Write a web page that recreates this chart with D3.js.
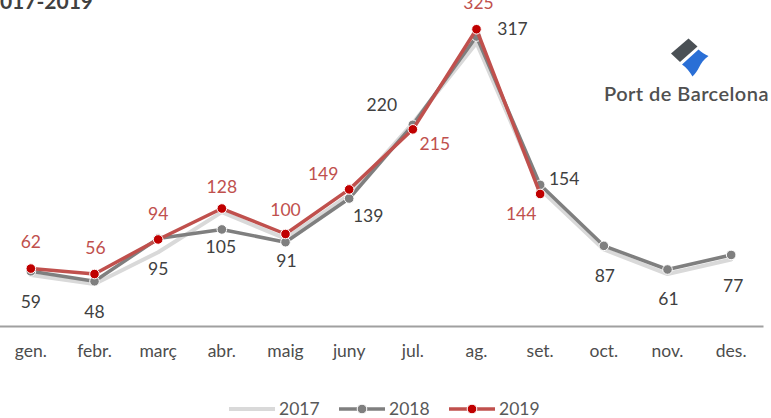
<!DOCTYPE html>
<html>
<head>
<meta charset="utf-8">
<script src="https://cdn.jsdelivr.net/npm/d3@7/dist/d3.min.js"></script>
<style>
  html, body { margin: 0; padding: 0; background: #fff; }
  svg { display: block; font-family: Lato, "Open Sans", sans-serif; }
</style>
</head>
<body>
<svg id="chart" width="771" height="418"></svg>
<script>
// Monthly figures, 2017-2019
const months = ["gen.", "febr.", "març", "abr.", "maig", "juny", "jul.", "ag.", "set.", "oct.", "nov.", "des."];
const years = ["2017", "2018", "2019"];
const values2017 = [55, 45, 80, 124, 95, 143, 222, 310, 149, 83, 56, 72];
const values2018 = [59, 48, 95, 105, 91, 139, 220, 317, 154, 87, 61, 77];
const values2019 = [62, 56, 94, 128, 100, 149, 215, 325, 144, null, null, null];

const svg = d3.select("#chart");

const x = d3.scaleBand().domain(months).range([-1, 763]).padding(0);
const y = d3.scaleLinear().domain([0, 350]).range([325, 325 - 0.91 * 350]);
const cx = m => x(m) + x.bandwidth() / 2;

// Title (runs off the left edge)
svg.append("text")
  .attr("x", 93).attr("y", 9)
  .attr("text-anchor", "end")
  .attr("font-size", 21).attr("font-weight", 700)
  .attr("fill", "#404040")
  .text("2017-2019");

// Category axis
const axis = svg.append("g")
  .attr("transform", "translate(0,326)")
  .call(d3.axisBottom(x).tickSize(0));
axis.select(".domain").attr("stroke", "#a0a0a0").attr("stroke-width", 2);
axis.selectAll("text")
  .attr("y", 31).attr("dy", 0)
  .attr("font-family", "Lato, 'Open Sans', sans-serif")
  .attr("font-size", 17.5)
  .attr("fill", "#4d4d4d");

// Series
const series = [
  { name: years[0], values: values2017, line: "#d9d9d9", width: 4, marker: null },
  { name: years[1], values: values2018, line: "#7f7f7f", width: 3.5, marker: "#7f7f7f" },
  { name: years[2], values: values2019, line: "#c0504d", width: 3.5, marker: "#c00000" }
];

const lineGen = d3.line()
  .defined(d => d.v != null)
  .x(d => cx(d.m))
  .y(d => y(d.v));

series.forEach(s => {
  const pts = months.map((m, i) => ({ m, v: s.values[i] }));
  svg.append("path")
    .datum(pts)
    .attr("fill", "none")
    .attr("stroke", s.line)
    .attr("stroke-width", s.width)
    .attr("stroke-linejoin", "round")
    .attr("stroke-linecap", "round")
    .attr("d", lineGen);
  if (s.marker) {
    svg.append("g").selectAll("circle")
      .data(pts.filter(d => d.v != null))
      .join("circle")
      .attr("cx", d => cx(d.m))
      .attr("cy", d => y(d.v))
      .attr("r", 4.8)
      .attr("fill", s.marker)
      .attr("stroke", "#fff")
      .attr("stroke-width", 1);
  }
});

// Data label placement relative to each point [dx, dy]
const place2018 = [[0, 30], [0, 30], [0, 30], [-1, 17], [1, 19], [19, 17], [-31, -20], [36, -8], [24, -6], [1, 30], [1, 29], [2, 31]];
const place2019 = [[0, -27], [1, -26], [0, -26], [0, -22], [0, -24], [-26, -16], [22, 14], [2, -27], [-19, 20]];

function drawLabels(values, place, color) {
  svg.append("g").selectAll("text")
    .data(months.map((m, i) => ({ m, v: values[i], p: place[i] })).filter(d => d.v != null))
    .join("text")
    .attr("x", d => cx(d.m) + d.p[0])
    .attr("y", d => y(d.v) + d.p[1])
    .attr("dy", "0.36em")
    .attr("text-anchor", "middle")
    .attr("font-size", 17.5)
    .attr("fill", color)
    .text(d => d.v);
}
drawLabels(values2018, place2018, "#404040");
drawLabels(values2019, place2019, "#c0504d");

// Legend
const legend = svg.append("g").attr("transform", "translate(0,409)");
const legendX = [229, 339, 449];
series.forEach((s, i) => {
  const g = legend.append("g").attr("transform", `translate(${legendX[i]},0)`);
  g.append("line").attr("x1", 0).attr("x2", 46).attr("y1", 0).attr("y2", 0)
    .attr("stroke", s.line).attr("stroke-width", s.width);
  if (s.marker) {
    g.append("circle").attr("cx", 23).attr("cy", 0).attr("r", 4.8)
      .attr("fill", s.marker).attr("stroke", "#fff").attr("stroke-width", 1);
  }
  g.append("text").attr("x", 50).attr("y", 0).attr("dy", "0.36em")
    .attr("font-size", 17.5).attr("fill", "#595959").text(s.name);
});

// Port de Barcelona logo
const logo = svg.append("g");
logo.append("path")
  .attr("d", "M671,53.5 L688.5,38.5 L697.5,46.5 L680,62 Z")
  .attr("fill", "#4a5055");
logo.append("path")
  .attr("d", "M682,64.5 L698.5,49.5 C701.5,52.5 705,54.5 708.5,56 C703.5,59.5 701,63.5 699,67.5 C697.5,70.5 695.5,73.5 692.5,76.5 C690,72 686.5,67.5 682,64.5 Z")
  .attr("fill", "#2a6fd6");
logo.append("text")
  .attr("x", 604).attr("y", 101)
  .attr("font-size", 20).attr("font-weight", 600)
  .attr("letter-spacing", 0.45)
  .attr("fill", "#505050")
  .text("Port de Barcelona");
</script>
</body>
</html>
